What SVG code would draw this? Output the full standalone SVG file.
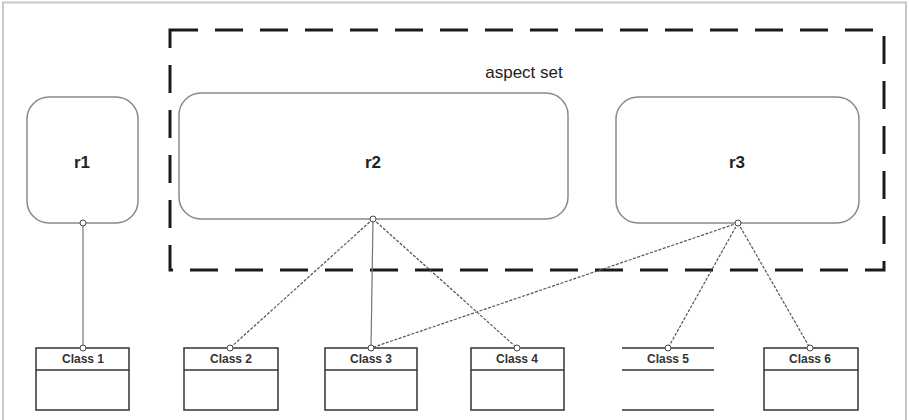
<svg xmlns="http://www.w3.org/2000/svg" width="909" height="420" viewBox="0 0 909 420">
<style>
.frame{fill:none;stroke:#c8c8c8;stroke-width:2}
.aspect{fill:none;stroke:#1a1a1a;stroke-width:3;stroke-dasharray:28 17}
.role{fill:#fff;stroke:#8a8a8a;stroke-width:1.5}
.rlabel{font-family:"Liberation Sans",Arial,sans-serif;font-weight:bold;font-size:17px;fill:#222;text-anchor:middle}
.clabel{font-family:"Liberation Sans",Arial,sans-serif;font-weight:bold;font-size:12px;fill:#333;text-anchor:middle}
.title{font-family:"Liberation Sans",Arial,sans-serif;font-size:17px;fill:#222;text-anchor:middle}
.box{fill:#fff;stroke:#333;stroke-width:1.5}
.sep{stroke:#333;stroke-width:1.5}
.solid{stroke:#777;stroke-width:1.2;fill:none}
.dash{stroke:#555;stroke-width:1.2;fill:none;stroke-dasharray:3 1.5}
.port{fill:#fff;stroke:#444;stroke-width:1}
</style>
<path class="frame" d="M3,420 V2.5 H906 V420"/>
<g id="aspect-set">
<rect class="aspect" x="170" y="30" width="714" height="240"/>
<text class="title" x="524" y="78">aspect set</text>
</g>
<g id="r1">
<rect class="role" x="27" y="97" width="111" height="126" rx="22"/>
<text class="rlabel" x="82" y="168">r1</text>
</g>
<g id="r2">
<rect class="role" x="179" y="93" width="389" height="126" rx="22"/>
<text class="rlabel" x="373" y="168">r2</text>
</g>
<g id="r3">
<rect class="role" x="616" y="97" width="243" height="126" rx="22"/>
<text class="rlabel" x="737" y="168">r3</text>
</g>
<g id="class1">
<rect class="box" x="36" y="348" width="93" height="62"/>
<line class="sep" x1="36" y1="370" x2="129" y2="370"/>
<text class="clabel" x="83" y="363">Class 1</text>
</g>
<g id="class2">
<rect class="box" x="184" y="348" width="94" height="62"/>
<line class="sep" x1="184" y1="370" x2="278" y2="370"/>
<text class="clabel" x="231" y="363">Class 2</text>
</g>
<g id="class3">
<rect class="box" x="325" y="348" width="92" height="62"/>
<line class="sep" x1="325" y1="370" x2="417" y2="370"/>
<text class="clabel" x="371" y="363">Class 3</text>
</g>
<g id="class4">
<rect class="box" x="471" y="348" width="93" height="62"/>
<line class="sep" x1="471" y1="370" x2="564" y2="370"/>
<text class="clabel" x="517" y="363">Class 4</text>
</g>
<g id="class5">
<line class="sep" x1="622" y1="348" x2="714" y2="348"/>
<line class="sep" x1="622" y1="370" x2="714" y2="370"/>
<line class="sep" x1="622" y1="410" x2="714" y2="410"/>
<text class="clabel" x="668" y="363">Class 5</text>
</g>
<g id="class6">
<rect class="box" x="764" y="348" width="94" height="62"/>
<line class="sep" x1="764" y1="370" x2="858" y2="370"/>
<text class="clabel" x="810" y="363">Class 6</text>
</g>
<g id="connectors">
<line class="solid" x1="83" y1="223" x2="83" y2="348"/>
<line class="dash" x1="373" y1="219" x2="230" y2="348"/>
<line class="solid" x1="373" y1="219" x2="371" y2="348"/>
<line class="dash" x1="373" y1="219" x2="517" y2="348"/>
<line class="dash" x1="738" y1="223" x2="371" y2="348"/>
<line class="dash" x1="738" y1="223" x2="668" y2="348"/>
<line class="dash" x1="738" y1="223" x2="810" y2="348"/>
<circle class="port" cx="83" cy="223" r="3"/>
<circle class="port" cx="373" cy="219" r="3"/>
<circle class="port" cx="738" cy="223" r="3"/>
<circle class="port" cx="83" cy="348" r="3"/>
<circle class="port" cx="230" cy="348" r="3"/>
<circle class="port" cx="371" cy="348" r="3"/>
<circle class="port" cx="517" cy="348" r="3"/>
<circle class="port" cx="668" cy="348" r="3"/>
<circle class="port" cx="810" cy="348" r="3"/>
</g>
</svg>
